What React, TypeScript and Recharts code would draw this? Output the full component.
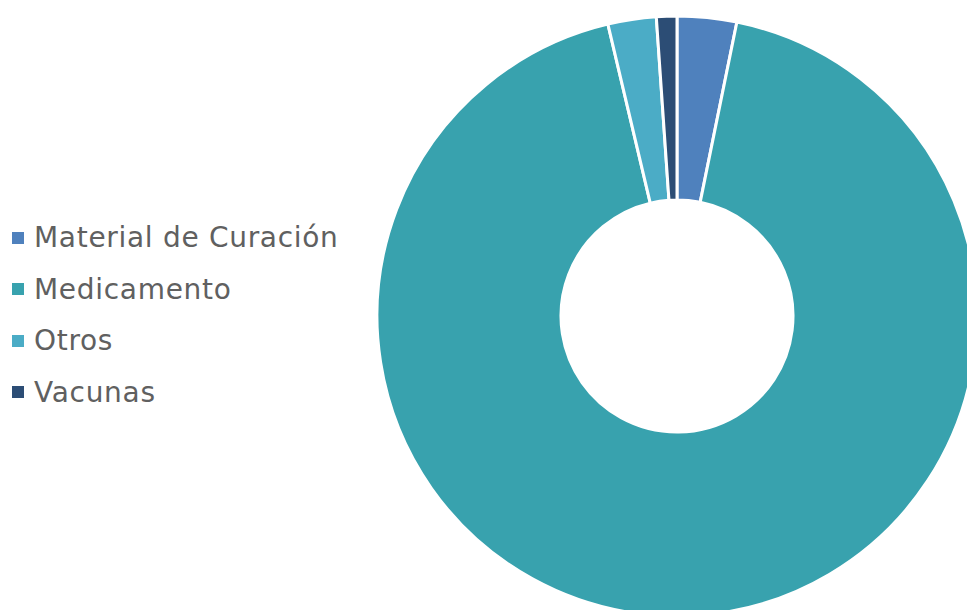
import { PieChart, Pie, Cell, Legend } from "recharts";

const categories = ["Material de Curación", "Medicamento", "Otros", "Vacunas"];
const shares = [3.2, 93.1, 2.6, 1.1];
const colors = ["#4f81bd", "#38a2ae", "#4bacc6", "#2c4d75"];

const data = categories.map((name, i) => ({ name, value: shares[i] }));

const renderLegend = () => (
  <div style={{ fontFamily: "'DejaVu Sans', sans-serif", color: "#606060" }}>
    {categories.map((name, i) => (
      <div
        key={name}
        style={{ display: "flex", alignItems: "center", height: 51.5, fontSize: 28, letterSpacing: 0.7 }}
      >
        <span
          style={{
            display: "inline-block",
            width: 12,
            height: 12,
            background: colors[i],
            marginRight: 10,
          }}
        />
        <span>{name}</span>
      </div>
    ))}
  </div>
);

export default function App() {
  return (
    <div style={{ position: "absolute", left: 0, top: 0, width: 967, height: 610, background: "#fff" }}>
      <PieChart width={967} height={610} margin={{ top: 0, right: 0, bottom: 0, left: 0 }}>
        <Pie
          data={data}
          dataKey="value"
          nameKey="name"
          cx={677}
          cy={316}
          innerRadius={116}
          outerRadius={300}
          startAngle={90}
          endAngle={-270}
          stroke="#ffffff"
          strokeWidth={3}
          isAnimationActive={false}
        >
          {data.map((d, i) => (
            <Cell key={d.name} fill={colors[i]} />
          ))}
        </Pie>
        <Legend
          content={renderLegend}
          wrapperStyle={{ position: "absolute", left: 12, top: 212, width: 380 }}
        />
      </PieChart>
    </div>
  );
}
